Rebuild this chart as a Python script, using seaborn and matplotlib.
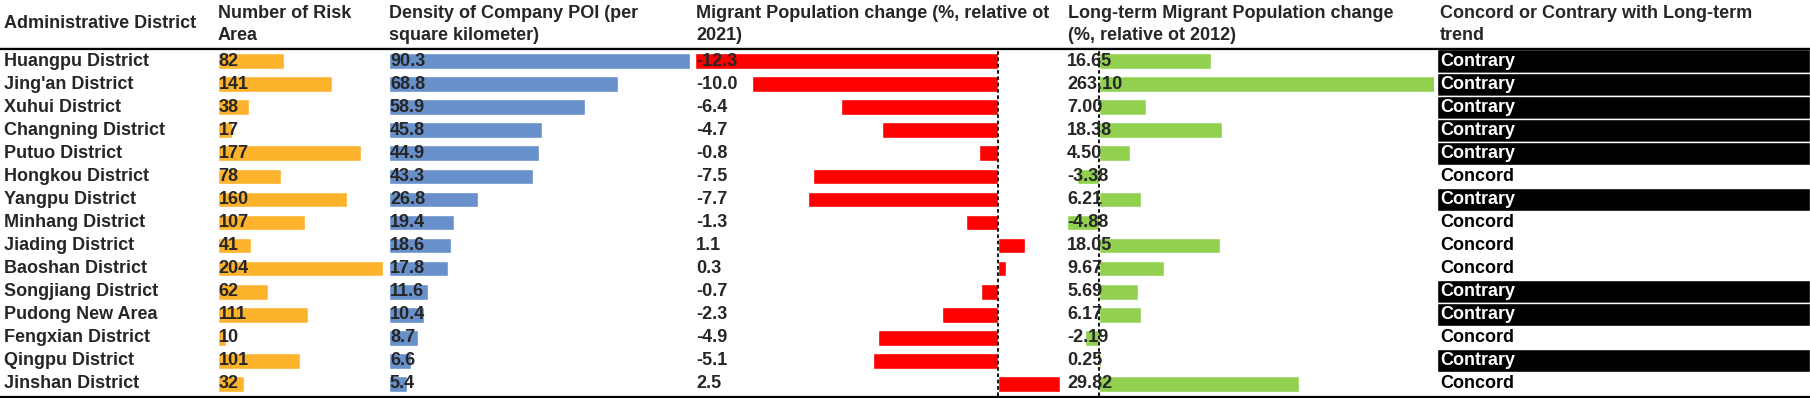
import matplotlib
matplotlib.use('Agg')
import matplotlib.pyplot as plt
import matplotlib.transforms as mtransforms
import seaborn as sns

districts = ['Huangpu District', "Jing'an District", 'Xuhui District', 'Changning District',
             'Putuo District', 'Hongkou District', 'Yangpu District', 'Minhang District',
             'Jiading District', 'Baoshan District', 'Songjiang District', 'Pudong New Area',
             'Fengxian District', 'Qingpu District', 'Jinshan District']
risk_areas = [82, 141, 38, 17, 177, 78, 160, 107, 41, 204, 62, 111, 10, 101, 32]
poi_density = [90.3, 68.8, 58.9, 45.8, 44.9, 43.3, 26.8, 19.4, 18.6, 17.8, 11.6, 10.4, 8.7, 6.6, 5.4]
migrant_change = [-12.3, -10.0, -6.4, -4.7, -0.8, -7.5, -7.7, -1.3, 1.1, 0.3, -0.7, -2.3, -4.9, -5.1, 2.5]
longterm_change = [16.65, 263.10, 7.00, 18.38, 4.50, -3.38, 6.21, -4.88, 18.05, 9.67, 5.69, 6.17, -2.19, 0.25, 29.82]
trend = ['Contrary', 'Contrary', 'Contrary', 'Contrary', 'Contrary', 'Concord', 'Contrary', 'Concord',
         'Concord', 'Concord', 'Contrary', 'Contrary', 'Concord', 'Contrary', 'Concord']

headers = ['Administrative District', 'Number of Risk\nArea', 'Density of Company POI (per\nsquare kilometer)',
           'Migrant Population change (%, relative ot\n2021)',
           'Long-term Migrant Population change\n(%, relative ot 2012)',
           'Concord or Contrary with Long-term\ntrend']

sns.set_theme(style='white')
plt.rcParams['font.family'] = ['Liberation Sans', 'DejaVu Sans']
plt.rcParams['font.weight'] = 'bold'
FS = 13

W, H = 1810, 398
fig = plt.figure(figsize=(W / 100, H / 100), dpi=100)
TOP, BOT = 49.5, 395.5
n = len(districts)
row_h = (BOT - TOP) / n


def px_axes(x0, x1, y0=TOP, y1=BOT):
    return fig.add_axes([x0 / W, (H - y1) / H, (x1 - x0) / W, (y1 - y0) / H])


# background axes in pixel units for names, headers, rules
bg = fig.add_axes([0, 0, 1, 1])
bg.set_xlim(0, W)
bg.set_ylim(H, 0)
bg.axis('off')

for i, d in enumerate(districts):
    bg.text(4, TOP + row_h * (i + 0.5), d, fontsize=FS, fontweight='bold', va='center', ha='left')

header_x = [4, 218, 389, 696, 1068, 1440]
for hx, h in zip(header_x, headers):
    if '\n' in h:
        l1, l2 = h.split('\n')
        bg.text(hx, 14, l1, fontsize=FS, fontweight='bold', va='center', ha='left')
        bg.text(hx, 36, l2, fontsize=FS, fontweight='bold', va='center', ha='left')
    else:
        bg.text(hx, 24, h, fontsize=FS, fontweight='bold', va='center', ha='left')

bg.plot([0, W], [47.5, 47.5], color='#999999', lw=1)
bg.plot([0, W], [49, 49], color='black', lw=1.6)
bg.plot([0, W], [396.5, 396.5], color='black', lw=1.6)


def bar_column(x0, x1, values, color, xlim, fmt, zero_line=False):
    ax = px_axes(x0, x1)
    sns.barplot(x=values, y=districts, orient='h', color=color, width=0.68,
                saturation=1, ax=ax)
    ax.set_xlim(*xlim)
    ax.set_ylim(n - 0.5, -0.5)
    ax.axis('off')
    if zero_line:
        ax.axvline(0, color='black', lw=1.3, ls=(0, (2, 1.5)), zorder=5)
    tr = mtransforms.blended_transform_factory(ax.transAxes, ax.transData)
    for i, v in enumerate(values):
        ax.text(0.003, i, fmt.format(v), transform=tr, fontsize=FS, fontweight='bold',
                va='center', ha='left', zorder=6)
    return ax


bar_column(218, 383, risk_areas, '#FDB32C', (0, 204), '{:d}')
bar_column(389, 690, poi_density, '#6890CA', (0, 90.3), '{:.1f}')
bar_column(695, 1060, migrant_change, '#FF0000', (-12.3, 2.5), '{:.1f}', zero_line=True)
bar_column(1066, 1434, longterm_change, '#92D050', (-5, 50), '{:.2f}', zero_line=True)

# concord / contrary column
ax = px_axes(1437, 1810)
flag = [1 if t == 'Contrary' else 0 for t in trend]
sns.barplot(x=flag, y=districts, orient='h', color='black', width=1.0, saturation=1, ax=ax)
ax.set_xlim(0, 1)
ax.set_ylim(n - 0.5, -0.5)
ax.axis('off')
tr = mtransforms.blended_transform_factory(ax.transAxes, ax.transData)
for i, t in enumerate(trend):
    ax.text(0.01, i, t, transform=tr, fontsize=FS, fontweight='bold', va='center', ha='left',
            color='white' if t == 'Contrary' else 'black')

fig.savefig('out.png', dpi=100)
